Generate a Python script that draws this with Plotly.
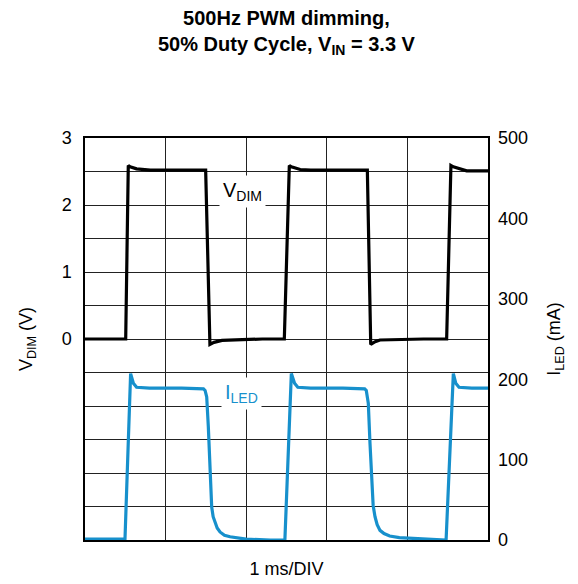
import plotly.graph_objects as go

# ---- data (time in ms) ----
vdim_t = [0.0, 0.48, 0.505, 0.537, 0.56, 0.64, 0.81, 1.2, 1.497, 1.55, 1.6, 1.7, 1.9, 2.2, 2.473,
          2.535, 2.56, 2.67, 2.8, 3.2, 3.503, 3.545, 3.6, 3.66, 3.8, 4.2, 4.487, 4.54, 4.57, 4.735, 5.0]
vdim_v = [0.0, 0.0, 0.0, 2.59, 2.57, 2.54, 2.52, 2.52, 2.52, -0.08, -0.05, -0.02, -0.01, 0.0, 0.0,
          2.59, 2.57, 2.53, 2.52, 2.52, 2.52, -0.08, -0.04, -0.015, -0.01, 0.0, 0.0, 2.59, 2.57, 2.51, 2.51]

iled_t = [0.0, 0.3, 0.496, 0.566, 0.6, 0.64, 0.8, 1.2, 1.47, 1.49, 1.51, 1.53, 1.551, 1.572, 1.59,
          1.613, 1.64, 1.675, 1.73, 1.8, 1.9, 2.0, 2.3, 2.48, 2.56, 2.6, 2.64, 2.8, 3.2, 3.47,
          3.49, 3.515, 3.536, 3.557, 3.575, 3.598, 3.625, 3.66, 3.71, 3.78, 3.9, 4.07, 4.4, 4.48,
          4.57, 4.6, 4.64, 4.8, 5.0]
iled_ma = [1, 1, 1, 207, 195, 190, 189, 189, 188, 186, 178, 141, 83, 41, 29,
           21, 15, 10, 6, 4, 2, 1, 0, 0, 207, 195, 190, 189, 189, 188,
           186, 170, 120, 66, 43, 29, 19, 12, 8, 5, 3, 2, 0, 0,
           207, 195, 190, 189, 189]

v_tickvals = [-3, -2.5, -2, -1.5, -1, -0.5, 0, 0.5, 1, 1.5, 2, 2.5, 3]
v_ticktext = ["", "", "", "", "", "", "0", "", "1", "", "2", "", "3"]
i_tickvals = [0, 100, 200, 300, 400, 500]
x_tickvals = [0, 1, 2, 3, 4, 5]

title_text = "<b>500Hz PWM dimming,<br>50% Duty Cycle, V<sub>IN</sub> = 3.3 V</b>"

BLUE = "#1790cc"
FONT = "Liberation Sans, Arial, sans-serif"

fig = go.Figure()
fig.add_trace(go.Scatter(x=vdim_t, y=vdim_v, mode="lines",
                         line=dict(color="black", width=3.2), yaxis="y", showlegend=False))
fig.add_trace(go.Scatter(x=iled_t, y=iled_ma, mode="lines",
                         line=dict(color=BLUE, width=3.2), yaxis="y2", showlegend=False))

fig.update_layout(
    width=578, height=584,
    margin=dict(l=85, r=90, t=138, b=44),
    paper_bgcolor="white", plot_bgcolor="white",
    font=dict(family=FONT, size=18, color="black"),
    xaxis=dict(range=[0, 5], tickvals=x_tickvals, showticklabels=False, ticks="",
               automargin=False,
               showgrid=True, gridcolor="#222", gridwidth=1,
               showline=True, linecolor="black", linewidth=1.5, mirror=True, zeroline=False,
               title=dict(text="1 ms/DIV", standoff=22, font=dict(size=18))),
    yaxis=dict(range=[-3, 3], tickvals=v_tickvals, ticktext=v_ticktext, ticks="",
               ticklabelstandoff=8, automargin=False,
               showgrid=True, gridcolor="#222", gridwidth=1, zeroline=False,
               showline=True, linecolor="black", linewidth=1.5, mirror=True,
               title=dict(text="V<sub>DIM</sub> (V)", standoff=24, font=dict(size=18))),
    yaxis2=dict(range=[0, 500], tickvals=i_tickvals, overlaying="y", side="right",
                showgrid=False, zeroline=False, ticks="", ticklabelstandoff=9, automargin=False,
                title=dict(text="I<sub>LED</sub> (mA)", standoff=20, font=dict(size=18))),
    annotations=[
        dict(x=0.5, y=1.331, xref="paper", yref="paper", xanchor="center", yanchor="top",
             text=title_text, showarrow=False, align="center",
             font=dict(family=FONT, size=20, color="black")),
        dict(x=1.96, y=2.2, xref="x", yref="y", text="V<sub>DIM</sub>", showarrow=False,
             bgcolor="white", font=dict(size=20, color="black"), borderpad=3),
        dict(x=1.94, y=-0.82, xref="x", yref="y", text="I<sub>LED</sub>", showarrow=False,
             bgcolor="white", font=dict(size=20, color=BLUE), borderpad=3),
    ],
)

fig.write_html("out.html")
